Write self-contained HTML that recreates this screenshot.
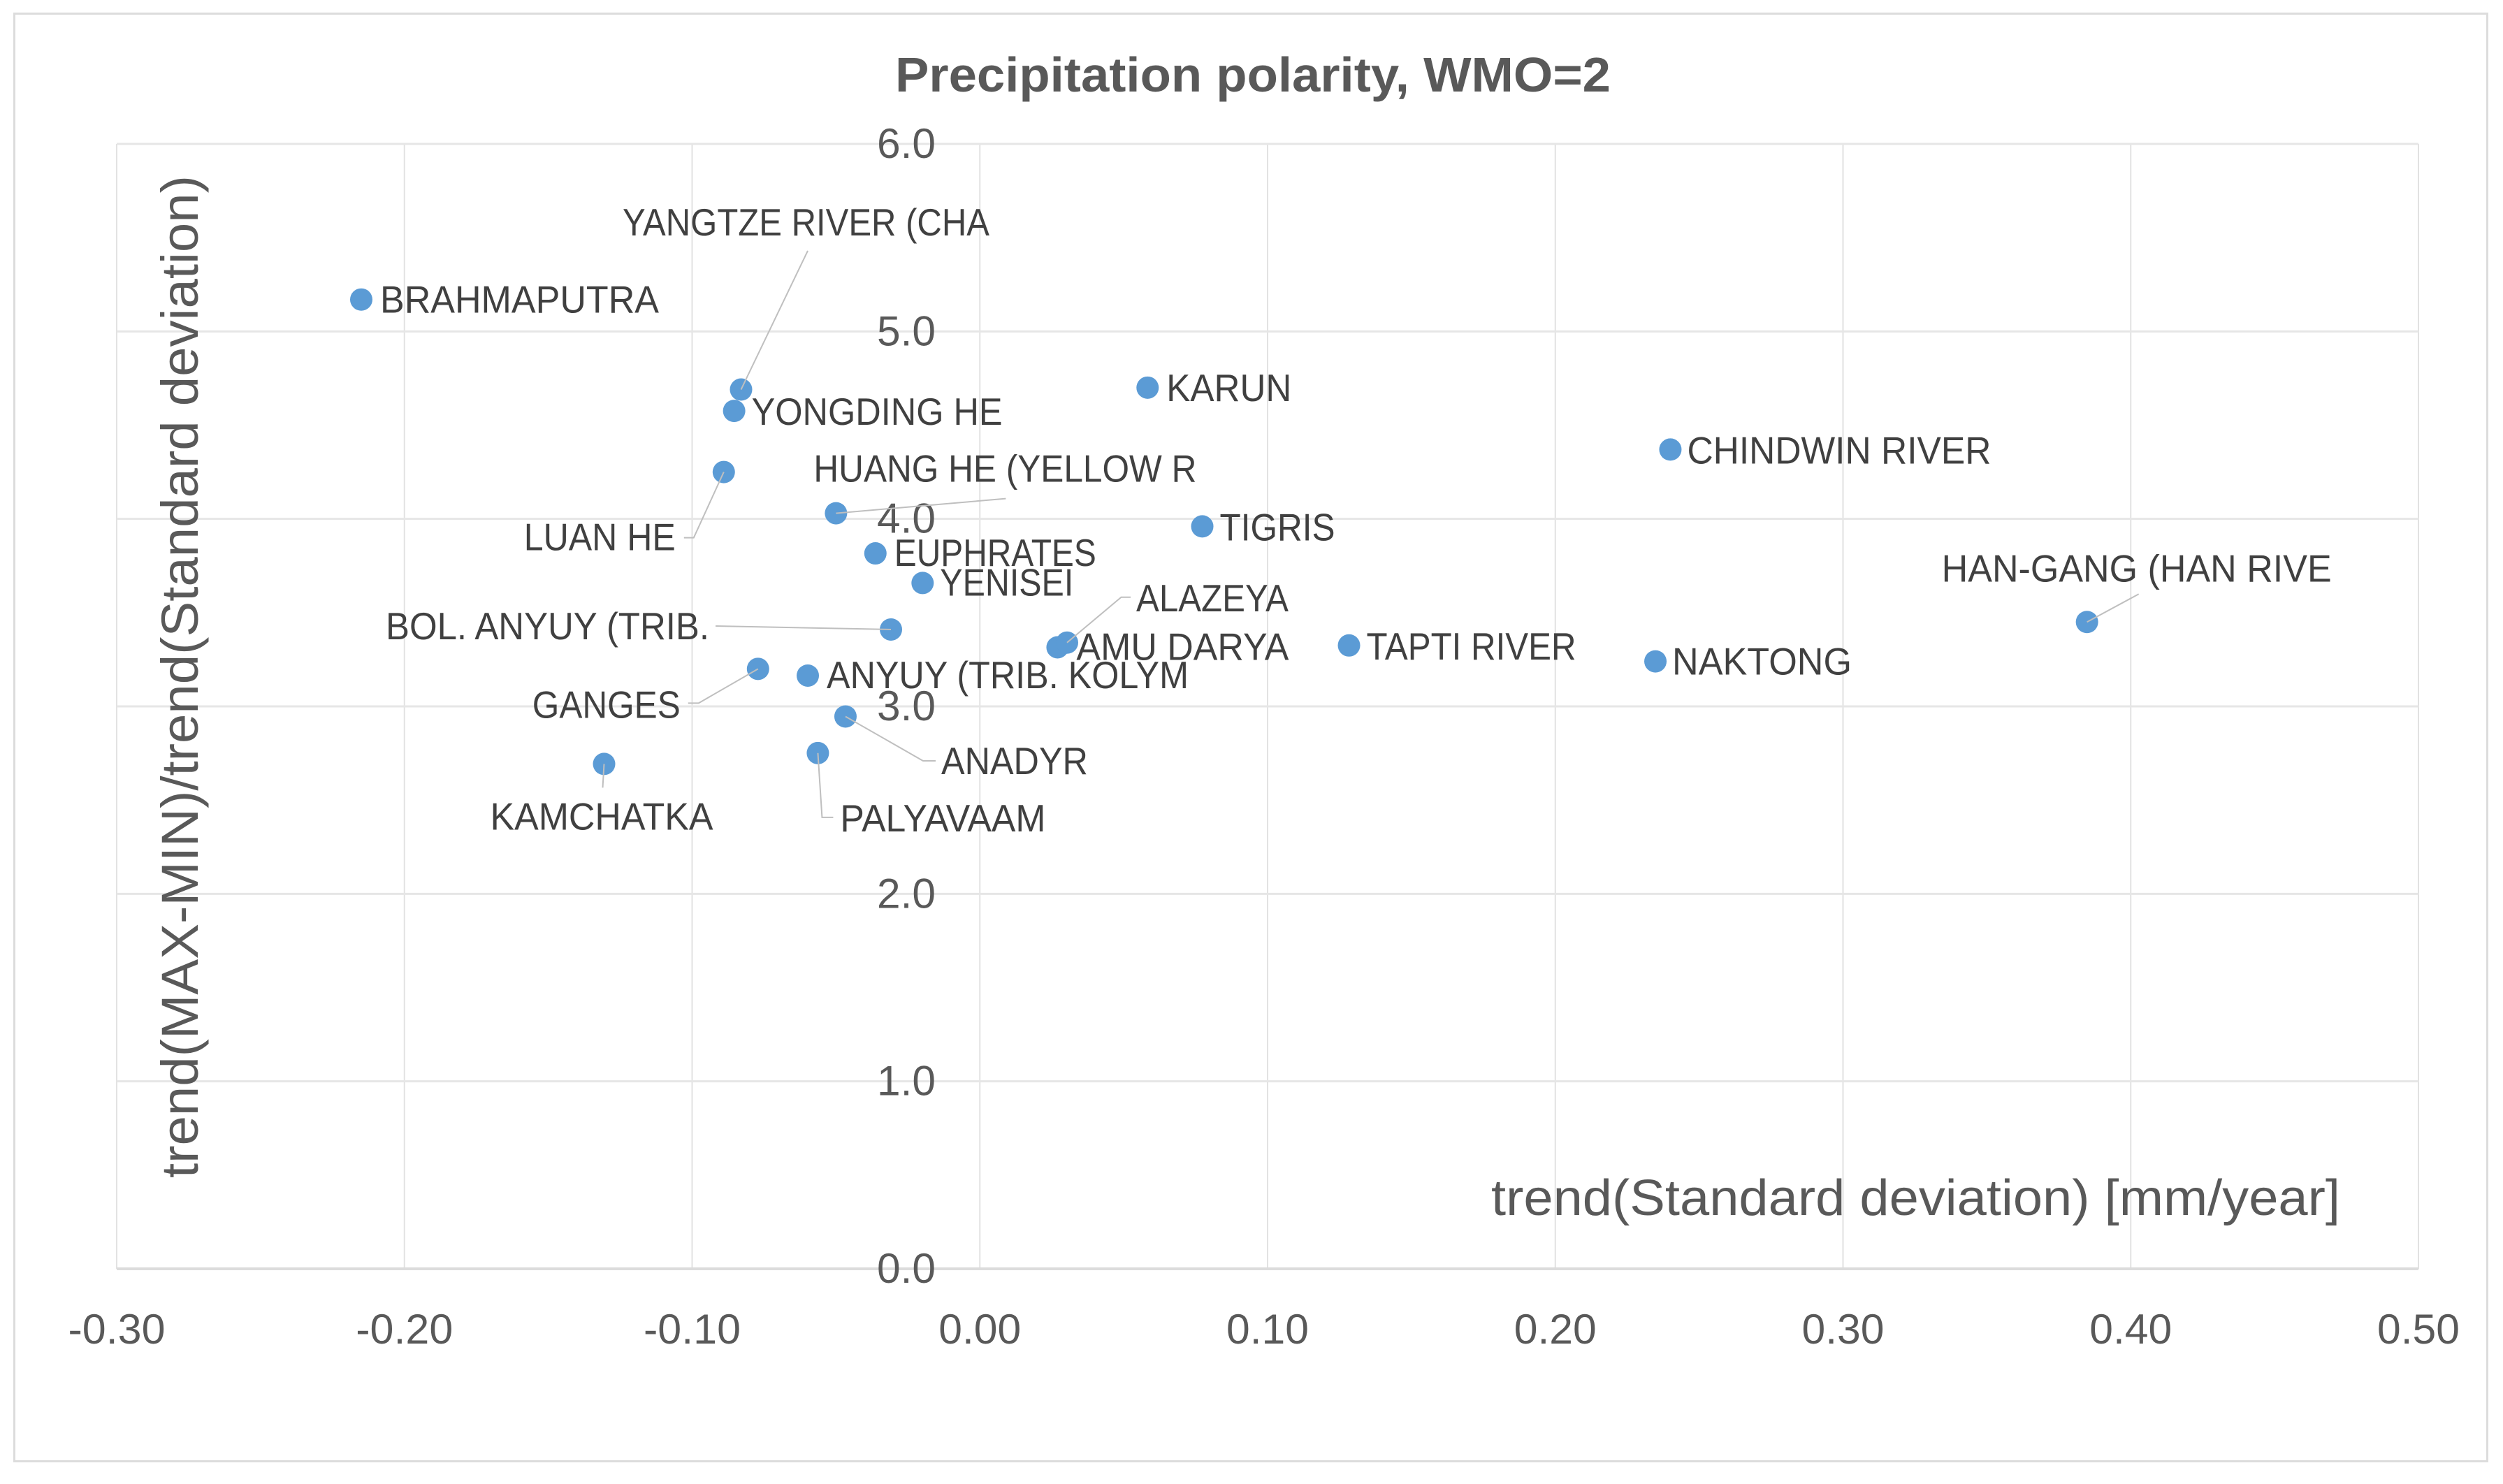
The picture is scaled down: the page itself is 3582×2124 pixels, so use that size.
<!DOCTYPE html>
<html lang="en">
<head>
<meta charset="utf-8">
<title>Precipitation polarity, WMO=2</title>
<style>
html,body{margin:0;padding:0;background:#fff;}
svg{display:block;font-family:"Liberation Sans",sans-serif;}
</style>
</head>
<body>
<svg id="chart" xmlns="http://www.w3.org/2000/svg" width="3582" height="2124" viewBox="0 0 3582 2124">
  <rect x="0" y="0" width="3582" height="2124" fill="#ffffff"/>
  <rect x="20.5" y="19.5" width="3539" height="2072" fill="#ffffff" stroke="#dcdcdc" stroke-width="3"/>
  <g id="grid"></g>
  <g id="ticks"></g>
  <g id="points"></g>
  <g id="leaders"></g>
  <g id="labels"></g>
  <text x="1281" y="131" font-size="70" font-weight="bold" fill="#595959" textLength="1024" lengthAdjust="spacingAndGlyphs">Precipitation polarity, WMO=2</text>
  <text transform="translate(283,1686) rotate(-90)" x="0" y="0" font-size="74" fill="#595959" textLength="1435" lengthAdjust="spacingAndGlyphs">trend(MAX-MIN)/trend(Standard deviation)</text>
  <text x="2134" y="1739" font-size="72" fill="#595959" textLength="1215" lengthAdjust="spacingAndGlyphs">trend(Standard deviation) [mm/year]</text>
</svg>
<script>
// Chart data
const riverNames = ["BRAHMAPUTRA","YANGTZE RIVER (CHA","YONGDING HE","LUAN HE","HUANG HE (YELLOW R","EUPHRATES","YENISEI","BOL. ANYUY (TRIB.","GANGES","ANYUY (TRIB. KOLYM","ANADYR","PALYAVAAM","KAMCHATKA","KARUN","TIGRIS","AMU DARYA","ALAZEYA","TAPTI RIVER","CHINDWIN RIVER","NAKTONG","HAN-GANG (HAN RIVE"];
const stdDevTrend = [-0.215,-0.083,-0.0854,-0.089,-0.05,-0.0363,-0.0199,-0.0309,-0.0771,-0.0598,-0.0467,-0.0563,-0.1306,0.0583,0.0773,0.027,0.0303,0.1283,0.24,0.2348,0.3848];
const polarity = [5.17,4.69,4.576,4.25,4.03,3.816,3.658,3.41,3.2,3.164,2.946,2.751,2.693,4.70,3.96,3.315,3.34,3.325,4.37,3.24,3.45];
const xTickLabels = ["-0.30","-0.20","-0.10","0.00","0.10","0.20","0.30","0.40","0.50"];
const yTickLabels = ["0.0","1.0","2.0","3.0","4.0","5.0","6.0"];

// Axis functions
const plot = {left:167, right:3461, top:206, bottom:1816};
const xMin = parseFloat(xTickLabels[0]);
const xMax = parseFloat(xTickLabels[xTickLabels.length-1]);
const yMin = parseFloat(yTickLabels[0]);
const yMax = parseFloat(yTickLabels[yTickLabels.length-1]);
function xScale(v){ return plot.left + (v - xMin) / (xMax - xMin) * (plot.right - plot.left); }
function yScale(v){ return plot.bottom - (v - yMin) / (yMax - yMin) * (plot.bottom - plot.top); }

// Label layout, as offsets from each point: text offset, text width, leader bends
const labelLayout = {
  "BRAHMAPUTRA":{dx:30,dy:21,w:396},
  "YANGTZE RIVER (CHA":{dx:-166.5,dy:-218.6,w:522,leader:[[95.5,-198.6]]},
  "YONGDING HE":{dx:28,dy:22,w:356},
  "LUAN HE":{dx:-283,dy:114,w:214,leader:[[-43,94],[-57,94]]},
  "HUANG HE (YELLOW R":{dx:-29,dy:-43,w:545,leader:[[243,-21]]},
  "EUPHRATES":{dx:30,dy:20,w:286},
  "YENISEI":{dx:28,dy:20,w:188},
  "BOL. ANYUY (TRIB.":{dx:-720,dy:16,w:460,leader:[[-251,-5]]},
  "GANGES":{dx:-320,dy:72,w:209,leader:[[-85,49],[-100,49]]},
  "ANYUY (TRIB. KOLYM":{dx:30,dy:20,w:515},
  "ANADYR":{dx:140,dy:84.5,w:207,leader:[[111,63.5],[129,63.5]]},
  "PALYAVAAM":{dx:35,dy:114,w:291,leader:[[6,92],[22,92]]},
  "KAMCHATKA":{dx:-160,dy:96,w:316,leader:[[-2,34]]},
  "KARUN":{dx:30,dy:21,w:176},
  "TIGRIS":{dx:28,dy:22,w:162},
  "AMU DARYA":{dx:30,dy:20,w:301},
  "ALAZEYA":{dx:102,dy:-43,w:215,leader:[[77.5,-65],[91,-65]]},
  "TAPTI RIVER":{dx:28,dy:22,w:297},
  "CHINDWIN RIVER":{dx:27,dy:22,w:432},
  "NAKTONG":{dx:27,dy:21,w:254},
  "HAN-GANG (HAN RIVE":{dx:-205,dy:-56,w:555,leader:[[74,-40]]}
};
// Global fine-tuning of label text relative to its layout slot
const labelNudge = {dx:-3, dy:-2, dw:3};

const NS = "http://www.w3.org/2000/svg";
function slug(s){ return s.toLowerCase().replace(/[^a-z0-9]+/g,"-").replace(/^-|-$/g,""); }
function gridLine(x1,y1,x2,y2,width,color,name){
  const el = document.createElementNS(NS,"line");
  el.setAttribute("x1",x1); el.setAttribute("y1",y1);
  el.setAttribute("x2",x2); el.setAttribute("y2",y2);
  el.setAttribute("stroke",color); el.setAttribute("stroke-width",width);
  
  
  document.getElementById("grid").appendChild(el);
}
function addText(parent,str,x,y,size,fill,len,name){
  const el = document.createElementNS(NS,"text");
  el.setAttribute("x",x); el.setAttribute("y",y);
  el.setAttribute("font-size",size); el.setAttribute("fill",fill);
  el.setAttribute("textLength",len); el.setAttribute("lengthAdjust","spacingAndGlyphs");
  
  
  el.textContent = str;
  parent.appendChild(el);
}

const tickGroup = document.getElementById("ticks");
xTickLabels.forEach(function(t){
  const v = parseFloat(t), x = xScale(v);
  gridLine(x,plot.top,x,plot.bottom,2,"#e2e2e2","x-gridline-"+slug(t));
  const w = v < 0 ? 139 : 118;
  addText(tickGroup,t,x-w/2,1923,60,"#595959",w,"x-tick-label-"+slug(t));
});
yTickLabels.forEach(function(t){
  const v = parseFloat(t), y = yScale(v);
  gridLine(plot.left,y,plot.right,y,v===yMin?4:3,v===yMin?"#dcdcdc":"#e6e6e6","y-gridline-"+slug(t));
  addText(tickGroup,t,1255,y+20,60,"#595959",84,"y-tick-label-"+slug(t));
});

const pointGroup = document.getElementById("points");
const leaderGroup = document.getElementById("leaders");
const labelGroup = document.getElementById("labels");
riverNames.forEach(function(name,i){
  const px = xScale(stdDevTrend[i]), py = yScale(polarity[i]);
  const c = document.createElementNS(NS,"circle");
  c.setAttribute("cx",px); c.setAttribute("cy",py); c.setAttribute("r",16);
  c.setAttribute("fill","#5b9bd5");
  
  
  pointGroup.appendChild(c);

  const lay = labelLayout[name];
  if(lay.leader){
    const pts = [[px,py]].concat(lay.leader.map(function(o){return [px+o[0],py+o[1]];}));
    const pl = document.createElementNS(NS,"polyline");
    pl.setAttribute("points",pts.map(function(p){return p.join(",");}).join(" "));
    pl.setAttribute("fill","none"); pl.setAttribute("stroke","#bfbfbf"); pl.setAttribute("stroke-width",2);
    
    
    leaderGroup.appendChild(pl);
  }
  addText(labelGroup,name,px+lay.dx+labelNudge.dx,py+lay.dy+labelNudge.dy,55,"#404040",lay.w+labelNudge.dw,"label-"+slug(name));
});
</script>
</body>
</html>
